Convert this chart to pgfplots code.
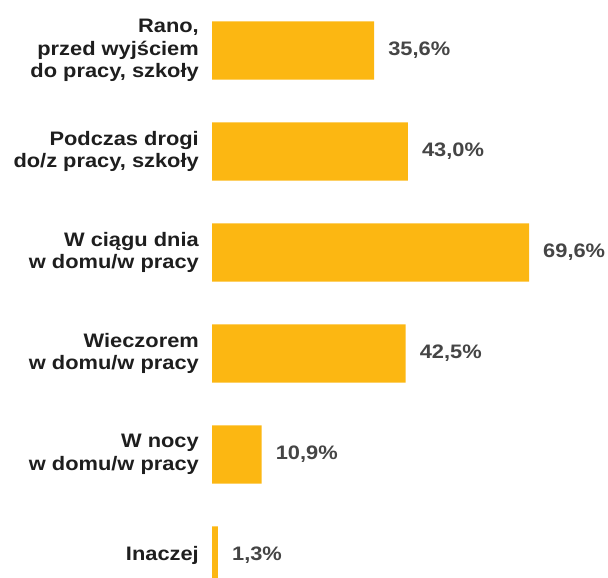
\documentclass[border=0pt]{standalone}
\usepackage{pgfplots}
\pgfplotsset{compat=1.18}
\usepackage{fontspec}
\setmainfont{Liberation Sans}[FakeStretch=1.12]
\definecolor{barcol}{HTML}{FCB712}
\definecolor{valgray}{HTML}{454545}
\definecolor{labcol}{HTML}{1E1E1E}
\begin{document}
\begin{tikzpicture}
\useasboundingbox (0,-578bp) rectangle (608bp,0);
\begin{axis}[
  at={(212bp,0)}, anchor=north west,
  scale only axis, width=396bp, height=578bp,
  xmin=0, xmax=86.94, ymin=-0.5, ymax=5.223,
  y dir=reverse,
  xbar, bar width=0.575,
  axis line style={draw=none},
  major tick length=0pt,
  xtick=\empty,
  ytick={0,1,2,3,4,5},
  yticklabels={{Rano,\\przed wyjściem\\do pracy, szkoły},
               {Podczas drogi\\do/z pracy, szkoły},
               {W ciągu dnia\\w domu/w pracy},
               {Wieczorem\\w domu/w pracy},
               {W nocy\\w domu/w pracy},
               {Inaczej}},
  yticklabel style={align=right, anchor=east, inner sep=0pt, xshift=-13bp,
    font=\fontsize{19.5bp}{22.5bp}\selectfont\bfseries, text=labcol},
  point meta=x,
  nodes near coords={\pgfmathprintnumber[use comma,fixed,fixed zerofill,precision=1,assume math mode=true]{\pgfplotspointmeta}\%},
  nodes near coords style={anchor=west, inner sep=0pt, xshift=14bp,
    font=\fontsize{19.5bp}{22.5bp}\selectfont\bfseries, text=valgray},
]
\addplot[fill=barcol, draw=none] coordinates {
  (35.6,0) (43.0,1) (69.6,2) (42.5,3) (10.9,4) (1.3,5)
};
\end{axis}
\end{tikzpicture}
\end{document}
